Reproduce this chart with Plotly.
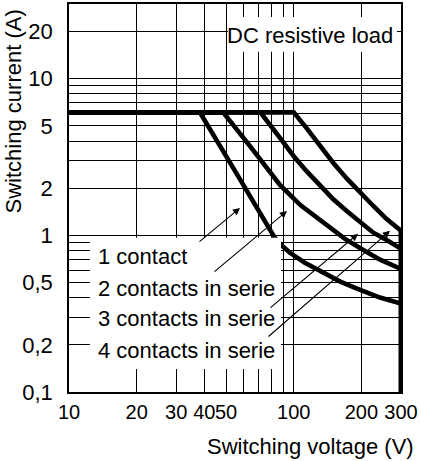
import plotly.graph_objects as go

# ---------------- data ----------------
c1_v = [10, 38.2, 55, 82.5, 87.7, 96.2, 112, 135, 161, 191, 242, 300]
c1_i = [6.1, 6.1, 2.55, 0.96, 0.87, 0.774, 0.669, 0.578, 0.507, 0.457, 0.401, 0.367]

c2_v = [10, 48.5, 64, 87, 107, 135, 169, 197, 242, 300]
c2_i = [6.1, 6.1, 3.7, 2.09, 1.56, 1.20, 0.95, 0.83, 0.70, 0.61]

c3_v = [10, 71, 87, 100, 114, 131, 150, 172, 197, 226, 260, 300]
c3_i = [6.1, 6.1, 4.18, 3.20, 2.57, 2.06, 1.70, 1.43, 1.21, 1.04, 0.93, 0.82]

c4_v = [10, 100, 114, 131, 150, 172, 197, 226, 259, 300]
c4_i = [6.1, 6.1, 4.84, 3.70, 2.90, 2.31, 1.87, 1.54, 1.27, 1.07]

limit_v = [300, 300]
limit_i = [1.07, 0.1]

x_tickvals = [10, 20, 30, 40, 50, 100, 200, 300]
x_ticktext = ["10", "20", "30", "40", "50", "100", "200", "300"]
x_grid = [20, 30, 40, 50, 60, 70, 80, 90, 100, 200]

y_tickvals = [0.1, 0.2, 0.5, 1, 2, 5, 10, 20]
y_ticktext = ["0,1", "0,2", "0,5", "1", "2", "5", "10", "20"]
y_grid = [0.2, 0.3, 0.4, 0.5, 0.6, 0.7, 0.8, 0.9, 1, 2, 3, 4, 5, 6, 7, 8, 9, 10, 20]

legend_labels = ["1 contact", "2 contacts in serie", "3 contacts in serie", "4 contacts in serie"]
title_x = "Switching voltage (V)"
title_y = "Switching current (A)"
box_label = "DC resistive load"

# ---------------- layout geometry ----------------
W, H = 421, 461
L, R, T, B = 69, 20, 2, 69
PW, PH = W - L - R, H - T - B


def px(xp):
    return (xp - L) / PW


def py(yp):
    return (T + PH - yp) / PH


FONT = "Liberation Sans, Arial, sans-serif"
FS = 22

fig = go.Figure()
for xs, ys in [(c1_v, c1_i), (c2_v, c2_i), (c3_v, c3_i), (c4_v, c4_i)]:
    fig.add_trace(go.Scatter(x=xs, y=ys, mode="lines",
                             line=dict(color="black", width=4.6),
                             hoverinfo="skip", showlegend=False))
fig.add_trace(go.Scatter(x=limit_v, y=limit_i, mode="lines",
                         line=dict(color="black", width=5),
                         hoverinfo="skip", showlegend=False))

axis_common = dict(type="log", showline=True, linecolor="black", linewidth=1.5,
                   mirror=True, ticks="", showgrid=False, tickangle=0)

fig.update_xaxes(range=[1, 2.4771], tickmode="array", tickvals=x_tickvals,
                 ticktext=x_ticktext, ticklabelstandoff=1,
                 tickfont=dict(family=FONT, size=20, color="black"),
                 minor=dict(tickmode="array", tickvals=x_grid, showgrid=True,
                            gridcolor="black", gridwidth=1.3, ticks=""),
                 **axis_common)
fig.update_yaxes(range=[-1, 1.4771], tickmode="array", tickvals=y_tickvals,
                 ticktext=y_ticktext, ticklabelstandoff=10,
                 tickfont=dict(family=FONT, size=FS, color="black"),
                 minor=dict(tickmode="array", tickvals=y_grid, showgrid=True,
                            gridcolor="black", gridwidth=1.3, ticks=""),
                 **axis_common)

shapes = [
    dict(type="rect", xref="paper", yref="paper", x0=px(90), x1=px(281), y0=py(369), y1=py(237),
         fillcolor="white", line=dict(width=0), layer="above"),
    dict(type="rect", xref="paper", yref="paper", x0=px(228), x1=px(397), y0=py(50), y1=py(15),
         fillcolor="white", line=dict(width=0), layer="above"),
]

txt = dict(xref="paper", yref="paper", showarrow=False, yanchor="middle",
           font=dict(family=FONT, size=FS, color="black"))
ann = []
ann.append(dict(text=box_label, x=px(310), y=py(34), xanchor="center", **txt))
for lab, yc in zip(legend_labels, [258, 290, 320, 352]):
    ann.append(dict(text=lab, x=px(96), y=py(yc - 2), xanchor="left", **txt))
arrows = [((198, 242), (240, 207)), ((213, 272), (287, 210)),
          ((269, 308), (358, 233)), ((267, 337), (390, 230))]
for (tx, ty), (hx, hy) in arrows:
    ann.append(dict(text="", x=px(hx), y=py(hy), xref="paper", yref="paper",
                    ax=tx - hx, ay=ty - hy, showarrow=True, arrowhead=2, arrowsize=1.3,
                    arrowwidth=1.1, arrowcolor="black", standoff=0))
ann.append(dict(text=title_x, x=px(310), y=py(447), xanchor="center", **txt))
ann.append(dict(text=title_y, x=px(13), y=py(110), xanchor="center", textangle=-90, **txt))

fig.update_layout(width=W, height=H, margin=dict(l=L, r=R, t=T, b=B),
                  paper_bgcolor="white", plot_bgcolor="white",
                  shapes=shapes, annotations=ann, showlegend=False)

fig.write_html("out.html")
